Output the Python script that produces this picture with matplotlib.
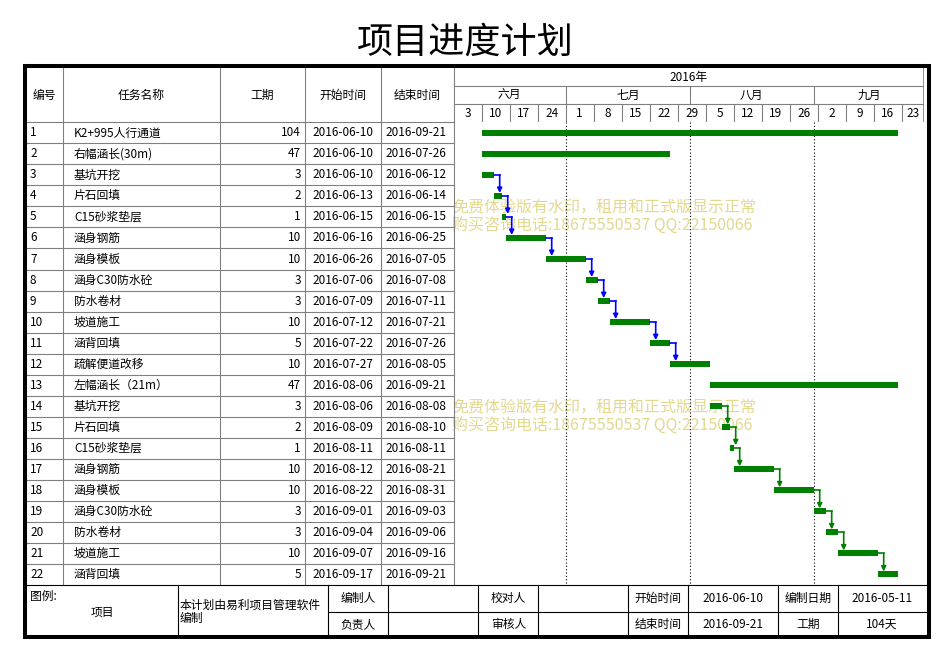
import numpy as np
import pandas as pd
import matplotlib
matplotlib.use('Agg')
import matplotlib.pyplot as plt
import matplotlib.dates as mdates

plt.rcParams['font.family'] = ['Noto Sans CJK SC', 'DejaVu Sans']

# ---- data ----
task_ids = list(range(1, 23))
task_names = ['K2+995人行通道', '右幅涵长(30m)', '基坑开挖', '片石回填', 'C15砂浆垫层',
              '涵身钢筋', '涵身模板', '涵身C30防水砼', '防水卷材', '坡道施工', '涵背回填',
              '疏解便道改移', '左幅涵长（21m）', '基坑开挖', '片石回填', 'C15砂浆垫层',
              '涵身钢筋', '涵身模板', '涵身C30防水砼', '防水卷材', '坡道施工', '涵背回填']
durations = [104, 47, 3, 2, 1, 10, 10, 3, 3, 10, 5, 10, 47, 3, 2, 1, 10, 10, 3, 3, 10, 5]
start_dates = ['2016-06-10', '2016-06-10', '2016-06-10', '2016-06-13', '2016-06-15',
               '2016-06-16', '2016-06-26', '2016-07-06', '2016-07-09', '2016-07-12',
               '2016-07-22', '2016-07-27', '2016-08-06', '2016-08-06', '2016-08-09',
               '2016-08-11', '2016-08-12', '2016-08-22', '2016-09-01', '2016-09-04',
               '2016-09-07', '2016-09-17']
end_dates = ['2016-09-21', '2016-07-26', '2016-06-12', '2016-06-14', '2016-06-15',
             '2016-06-25', '2016-07-05', '2016-07-08', '2016-07-11', '2016-07-21',
             '2016-07-26', '2016-08-05', '2016-09-21', '2016-08-08', '2016-08-10',
             '2016-08-11', '2016-08-21', '2016-08-31', '2016-09-03', '2016-09-06',
             '2016-09-16', '2016-09-21']
# dependency chains (task ids), each link i -> i+1
blue_chain = [3, 4, 5, 6, 7, 8, 9, 10, 11, 12]
green_chain = [14, 15, 16, 17, 18, 19, 20, 21, 22]

year_label = '2016年'
month_labels = ['六月', '七月', '八月', '九月']
month_starts = ['2016-07-01', '2016-08-01', '2016-09-01']
week_first = '2016-06-03'
n_weeks = 17

header_cols = ['编号', '任务名称', '工期', '开始时间', '结束时间']
footer = {'plan_start': '2016-06-10', 'plan_end': '2016-09-21',
          'made_date': '2016-05-11', 'total': '104天'}

# ---- layout (pixels) ----
W, H = 952, 661
col_x = [27, 62.5, 219.5, 304.5, 380.5, 453.7]
chart_x0, chart_x1 = 453.7, 924.3
head_y0, head_y1 = 68.3, 122.3
body_y1 = 585.0
foot_mid = 611.7
foot_y1 = 637.0
row_h = (body_y1 - head_y1) / len(task_ids)
px_per_day = 4.0
GRAY = '#808080'
GREEN = '#008000'
fs = 8.5

fig = plt.figure(figsize=(W / 100, H / 100), dpi=100)
ax = fig.add_axes([0, 0, 1, 1])
ax.set_xlim(0, W)
ax.set_ylim(H, 0)
ax.axis('off')


def add_px_axes(x0, x1, y0, y1):
    a = fig.add_axes([x0 / W, 1 - y1 / H, (x1 - x0) / W, (y1 - y0) / H])
    a.axis('off')
    return a


# title
ax.text(465, 43, '项目进度计划', ha='center', va='center', fontsize=26, fontweight='medium')

# ---- left table ----
for x in col_x[1:]:
    ax.plot([x, x], [head_y0, body_y1], color=GRAY, lw=0.8)
for i in range(len(task_ids)):
    y = head_y1 + i * row_h
    ax.plot([col_x[0], col_x[-1]], [y, y], color=GRAY, lw=0.8)
hc = [(col_x[k] + col_x[k + 1]) / 2 for k in range(5)]
hc[0] = 44
for k, lab in enumerate(header_cols):
    ax.text(hc[k], 95.5, lab, ha='center', va='center', fontsize=fs)
for i in range(len(task_ids)):
    yc = head_y1 + (i + 0.5) * row_h
    ax.text(30, yc, str(task_ids[i]), ha='left', va='center', fontsize=fs)
    ax.text(74, yc, task_names[i], ha='left', va='center', fontsize=fs)
    ax.text(301, yc, str(durations[i]), ha='right', va='center', fontsize=fs)
    ax.text(hc[3], yc, start_dates[i], ha='center', va='center', fontsize=fs)
    ax.text(hc[4] - 1, yc, end_dates[i], ha='center', va='center', fontsize=fs)

# ---- gantt header (date axis) ----
t0 = mdates.date2num(pd.Timestamp(week_first))
t1 = t0 + (chart_x1 - chart_x0) / px_per_day
hx = add_px_axes(chart_x0, chart_x1, head_y0, head_y1)
hx.set_xlim(t0, t1)
hx.set_ylim(3, 0)
hx.plot([t0, t1], [1, 1], color=GRAY, lw=0.8)
hx.plot([t0, t1], [2, 2], color=GRAY, lw=0.8)
hx.plot([t1, t1], [0, 3], color=GRAY, lw=1.2)
hx.text((t0 + t1) / 2, 0.5, year_label, ha='center', va='center', fontsize=fs)
m_edges = [t0] + [mdates.date2num(pd.Timestamp(d)) for d in month_starts] + [t1]
for k, lab in enumerate(month_labels):
    if k > 0:
        hx.plot([m_edges[k]] * 2, [1, 2], color=GRAY, lw=0.8)
    hx.text((m_edges[k] + m_edges[k + 1]) / 2, 1.5, lab, ha='center', va='center', fontsize=fs)
weeks = pd.date_range(week_first, periods=n_weeks, freq='7D')
for k, d in enumerate(weeks):
    a = mdates.date2num(d)
    b = min(a + 7, t1)
    if k > 0:
        hx.plot([a, a], [2, 3], color=GRAY, lw=0.8)
    hx.text((a + b) / 2, 2.5, str(d.day), ha='center', va='center', fontsize=fs)

# ---- gantt body ----
gx = add_px_axes(chart_x0, chart_x1, head_y1, body_y1)
gx.set_xlim(t0, t1)
gx.set_ylim(len(task_ids), 0)
for d in month_starts:
    m = mdates.date2num(pd.Timestamp(d))
    gx.plot([m, m], [0, len(task_ids)], color='black', lw=0.8, ls=(0, (1, 2)))

bar_h = 6 / row_h
starts = mdates.date2num(pd.to_datetime(start_dates))
ends = mdates.date2num(pd.to_datetime(end_dates)) + 1
gx.barh(np.arange(len(task_ids)) + 0.5, ends - starts, left=starts, height=bar_h,
        color=GREEN, zorder=3)


def draw_links(chain, color):
    for a, b in zip(chain[:-1], chain[1:]):
        i, j = a - 1, b - 1
        x = ends[i] + 1.5
        gx.plot([ends[i], x], [i + 0.5, i + 0.5], color=color, lw=1.2, zorder=4)
        gx.annotate('', xy=(x, j + 0.5 - bar_h / 2), xytext=(x, i + 0.5),
                    arrowprops=dict(arrowstyle='-|>', color=color, lw=1.2,
                                    mutation_scale=7, shrinkA=0, shrinkB=0), zorder=4)


draw_links(blue_chain, '#0000ff')
draw_links(green_chain, GREEN)

# watermark
wm_color = '#e2d88f'
for y in (208, 408):
    ax.text(452, y, '免费体验版有水印，租用和正式版显示正常', ha='left', va='center',
            fontsize=11.5, color=wm_color, zorder=1)
    ax.text(452, y + 18, '购买咨询电话:18675550537 QQ:22150066', ha='left', va='center',
            fontsize=11.5, color=wm_color, zorder=1)

# ---- footer ----
ax.plot([25, 928], [body_y1, body_y1], color='black', lw=0.8)
ax.plot([328.3, 928], [foot_mid, foot_mid], color='black', lw=0.8)
for x in [178.3, 328.3, 388.3, 478.3, 538.3, 628.3, 688.3, 778.3, 838.3]:
    ax.plot([x, x], [body_y1, foot_y1], color='black', lw=0.8)
r1, r2 = 598.5, 624.5
ax.text(30, 596, '图例:', ha='left', va='center', fontsize=fs)
ax.text(102, 612.5, '项目', ha='center', va='center', fontsize=fs)
ax.text(180, 605, '本计划由易利项目管理软件', ha='left', va='center', fontsize=fs)
ax.text(180, 618, '编制', ha='left', va='center', fontsize=fs)
cells = [(358.3, '编制人', '负责人'), (508.3, '校对人', '审核人'),
         (658.3, '开始时间', '结束时间'), (733.3, footer['plan_start'], footer['plan_end']),
         (808.3, '编制日期', '工期'), (882, footer['made_date'], footer['total'])]
for x, t_top, t_bot in cells:
    ax.text(x, r1, t_top, ha='center', va='center', fontsize=fs)
    ax.text(x, r2, t_bot, ha='center', va='center', fontsize=fs)

# thick outer border
ax.plot([25.3, 928.7, 928.7, 25.3, 25.3], [66.3, 66.3, 637, 637, 66.3],
        color='black', lw=2.9, solid_joinstyle='miter')

fig.savefig('out.png', dpi=100)
